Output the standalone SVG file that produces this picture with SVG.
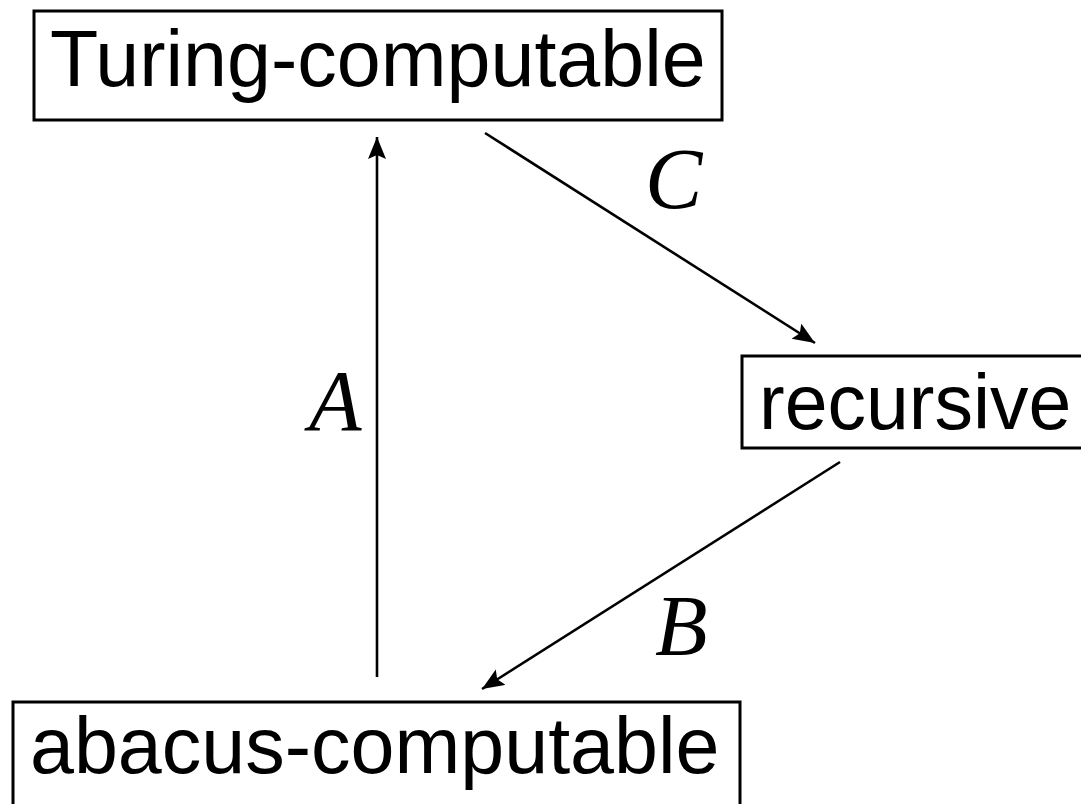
<svg xmlns="http://www.w3.org/2000/svg" width="1081" height="804" viewBox="0 0 1081 804">
<style>
.box{fill:#fff;stroke:#000;stroke-width:3}
.lbl{font-family:"Liberation Sans",Arial,sans-serif;font-size:79px;fill:#000}
.math{font-family:"Liberation Serif","Times New Roman",serif;font-style:italic;font-size:86px;fill:#000}
.edge{stroke:#000;stroke-width:2.6;fill:none;marker-end:url(#ah)}
</style>
<defs>
<marker id="ah" markerUnits="userSpaceOnUse" markerWidth="26" markerHeight="22" refX="22" refY="9" orient="auto">
<path d="M0,0 L22,9 L0,18 L4,9 Z" fill="#000"/>
</marker>
</defs>
<rect width="1081" height="804" fill="#fff"/>
<g id="turing">
<rect class="box" x="34" y="11" width="688" height="109"/>
<text class="lbl" x="50" y="86">Turing-computable</text>
</g>
<g id="recursive">
<rect class="box" x="742" y="356" width="345" height="92"/>
<text class="lbl" x="759" y="429" style="font-size:77px">recursive</text>
</g>
<g id="abacus">
<rect class="box" x="13" y="702" width="727" height="110"/>
<text class="lbl" x="30" y="773">abacus-computable</text>
</g>
<g id="connectors">
<line class="edge" x1="377" y1="677" x2="377" y2="137"/>
<line class="edge" x1="485" y1="133" x2="815" y2="343"/>
<line class="edge" x1="840" y1="462" x2="482" y2="689"/>
<text class="math" x="645" y="208">C</text>
<text class="math" x="309" y="430">A</text>
<text class="math" x="655" y="655">B</text>
</g>
</svg>
